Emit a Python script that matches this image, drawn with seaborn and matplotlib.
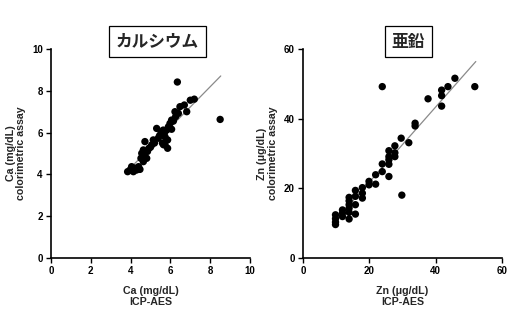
import matplotlib
matplotlib.use("Agg")
import matplotlib.pyplot as plt
import seaborn as sns
import pandas as pd
import numpy as np

# ---- data ----
ca_icp = [3.85, 3.97, 4.05, 4.14, 4.30, 4.40, 4.47, 4.52, 4.56, 4.64, 4.64, 4.72, 4.81, 4.70,
          4.92, 5.06, 5.14, 5.20, 5.31, 5.39, 5.53, 5.64, 5.73, 5.73, 5.86, 5.86, 5.81, 5.90,
          5.98, 6.06, 6.06, 6.26, 6.23, 6.40, 6.48, 6.70, 6.82, 7.00, 7.20, 6.35, 8.50, 5.60,
          5.00, 4.60, 5.45, 6.15, 4.20, 5.70, 4.85, 5.65]
ca_col = [4.13, 4.21, 4.37, 4.13, 4.21, 4.37, 4.24, 4.77, 5.01, 5.17, 4.61, 5.57, 4.77, 4.90,
          5.25, 5.41, 5.65, 5.50, 6.20, 5.73, 5.97, 6.12, 5.80, 5.41, 5.25, 5.65, 6.12, 6.28,
          6.44, 6.16, 6.60, 6.76, 7.00, 6.92, 7.24, 7.32, 7.00, 7.55, 7.60, 8.42, 6.63, 5.50,
          5.30, 4.80, 5.85, 6.55, 4.30, 6.00, 5.10, 5.42]
ca_fit_x = [3.9, 8.53]
ca_fit_y = [4.22, 8.71]

zn_icp = [9.8, 9.8, 9.8, 9.8, 11.9, 11.9, 11.9, 13.9, 13.9, 13.9, 13.9, 13.9, 13.9,
          15.8, 15.8, 15.8, 15.8, 17.9, 17.9, 17.9, 19.9, 19.9, 21.9, 21.9,
          23.9, 23.9, 23.9, 25.9, 25.9, 25.9, 25.9, 25.9, 27.7, 27.7, 27.7,
          29.6, 29.8, 31.9, 33.8, 33.8, 37.7, 41.8, 41.8, 41.8, 43.7, 45.8, 51.8]
zn_col = [12.4, 11.3, 10.3, 9.6, 13.8, 12.9, 11.9, 17.4, 15.3, 14.3, 13.1, 11.2, 16.4,
          19.4, 17.7, 15.3, 12.6, 20.2, 18.6, 17.2, 22.0, 21.0, 23.9, 21.2,
          27.0, 24.8, 49.2, 30.8, 29.1, 28.2, 26.9, 23.4, 32.2, 30.2, 29.1,
          34.4, 18.05, 33.1, 38.7, 37.9, 45.7, 48.2, 46.6, 43.6, 49.2, 51.6, 49.2]
zn_fit_x = [10.0, 52.1]
zn_fit_y = [11.0, 56.4]

ca_ticks = [0, 2, 4, 6, 8, 10]
zn_ticks = [0, 20, 40, 60]
titles = ["カルシウム", "亜鉛"]
xlabels = ["Ca (mg/dL)\nICP-AES", "Zn (μg/dL)\nICP-AES"]
ylabels = ["Ca (mg/dL)\ncolorimetric assay", "Zn (μg/dL)\ncolorimetric assay"]

sns.set_style("ticks")
plt.rcParams['font.family'] = ['Liberation Sans', 'DejaVu Sans']

fig = plt.figure(figsize=(5.12, 3.25), dpi=100)
ax1 = fig.add_axes([51/512, 67/325, 199/512, 209/325])
ax2 = fig.add_axes([303/512, 67/325, 199/512, 209/325])

panels = [
    (ax1, ca_icp, ca_col, ca_fit_x, ca_fit_y, ca_ticks, 10),
    (ax2, zn_icp, zn_col, zn_fit_x, zn_fit_y, zn_ticks, 60),
]
for i, (ax, xs, ys, fx, fy, ticks, lim) in enumerate(panels):
    df = pd.DataFrame({"x": xs, "y": ys})
    sns.lineplot(x=fx, y=fy, ax=ax, color="#8a8a8a", linewidth=0.9)
    sns.scatterplot(data=df, x="x", y="y", ax=ax, color="black", s=28,
                    linewidth=0, edgecolor="none", zorder=3)
    ax.set_xlim(0, lim)
    ax.set_ylim(0, lim)
    ax.set_xticks(ticks)
    ax.set_yticks(ticks)
    ax.set_xticklabels([str(t) for t in ticks], fontsize=7, fontweight="bold")
    ax.set_yticklabels([str(t) for t in ticks], fontsize=7, fontweight="bold")
    ax.tick_params(direction="out", length=3.5, width=1.0, pad=2.5, colors="black")
    for sp in ["left", "bottom"]:
        ax.spines[sp].set_linewidth(1.2)
        ax.spines[sp].set_color("black")
    for sp in ["top", "right"]:
        ax.spines[sp].set_visible(False)
    ax.set_xlabel(xlabels[i], fontsize=7.7, fontweight="bold", labelpad=7, linespacing=1.1)
    ax.set_ylabel(ylabels[i], fontsize=7.7, fontweight="bold", labelpad=4, linespacing=1.1)

title_pos = [(157.5/512, 1 - 41.5/325), (408.5/512, 1 - 41.5/325)]
for t, (px, py) in zip(titles, title_pos):
    fig.text(px, py, t, ha="center", va="center", fontsize=12, fontweight="bold",
             family=["Noto Sans CJK JP", "DejaVu Sans"],
             bbox=dict(boxstyle="square,pad=0.4", facecolor="white",
                       edgecolor="black", linewidth=0.9), zorder=10)

fig.savefig("out.png", dpi=100)
